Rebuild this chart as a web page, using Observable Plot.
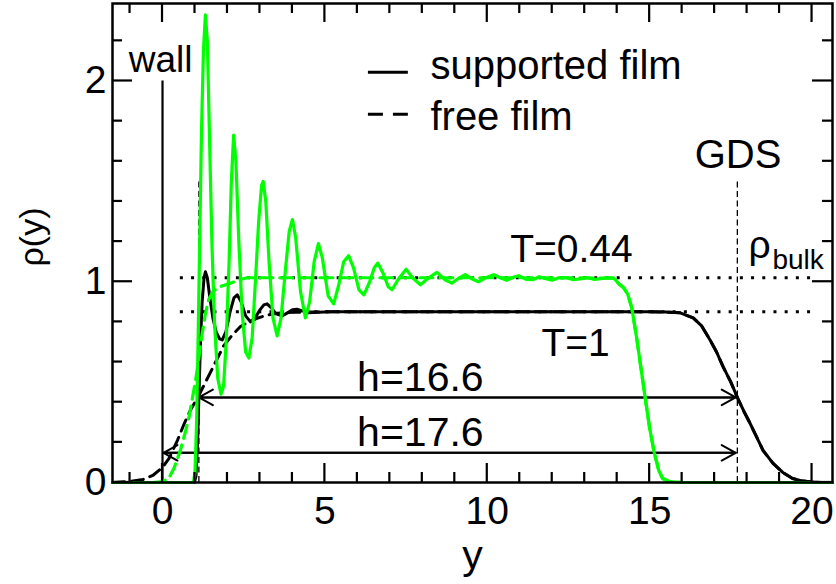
<!DOCTYPE html>
<html><head><meta charset="utf-8">
<script src="https://cdn.jsdelivr.net/npm/d3@7"></script>
<script src="https://cdn.jsdelivr.net/npm/@observablehq/plot@0.6"></script>
<style>body{margin:0;background:#fff}</style>
</head><body><div id="chart"></div>
<script>
// ---- data ----
const greenSupportedX = [-1.54, 0.95, 1.0, 1.05, 1.1, 1.15, 1.2, 1.26, 1.32, 1.38, 1.45, 1.52, 1.6, 1.7, 1.8, 1.88, 1.96, 2.05, 2.12, 2.19, 2.26, 2.35, 2.45, 2.56, 2.66, 2.76, 2.86, 2.96, 3.05, 3.1, 3.18, 3.28, 3.4, 3.53, 3.65, 3.78, 3.9, 4.0, 4.1, 4.25, 4.4, 4.53, 4.67, 4.8, 4.92, 5.1, 5.27, 5.42, 5.58, 5.73, 5.88, 6.05, 6.2, 6.38, 6.52, 6.63, 6.8, 6.95, 7.07, 7.25, 7.5, 7.7, 7.94, 8.2, 8.45, 8.7, 8.91, 9.1, 9.32, 9.52, 9.73, 9.95, 10.2, 10.4, 10.6, 10.8, 10.97, 11.2, 11.4, 11.6, 11.8, 12.0, 12.2, 12.45, 12.65, 12.9, 13.1, 13.3, 13.5, 13.7, 13.9, 14.05, 14.2, 14.32, 14.45, 14.6, 14.75, 14.86, 15.0, 15.14, 15.28, 15.4, 15.6, 16.0, 20.63];
const greenSupportedY = [0, 0, 0.05, 0.3, 0.75, 1.25, 1.75, 2.15, 2.33, 2.2, 1.7, 1.2, 0.8, 0.52, 0.44, 0.48, 0.7, 1.1, 1.5, 1.73, 1.6, 1.2, 0.85, 0.65, 0.62, 0.72, 1.0, 1.3, 1.48, 1.5, 1.4, 1.1, 0.82, 0.73, 0.82, 1.05, 1.25, 1.31, 1.22, 0.95, 0.82, 0.9, 1.1, 1.19, 1.12, 0.93, 0.89, 0.98, 1.1, 1.13, 1.07, 0.96, 0.935, 1.0, 1.07, 1.093, 1.04, 0.975, 0.96, 1.01, 1.062, 1.02, 0.985, 1.02, 1.047, 1.01, 0.993, 1.015, 1.035, 1.015, 1.0, 1.02, 1.035, 1.02, 1.007, 1.022, 1.03, 1.012, 1.01, 1.025, 1.015, 1.008, 1.02, 1.02, 1.01, 1.015, 1.02, 1.012, 1.015, 1.02, 1.018, 0.99, 0.97, 0.94, 0.87, 0.72, 0.55, 0.425, 0.27, 0.15, 0.06, 0.02, 0.005, 0, 0];

const greenFreeX = [-1.54, -0.3, 0.0, 0.19, 0.35, 0.55, 0.7, 0.81, 0.92, 1.02, 1.12, 1.22, 1.32, 1.42, 1.55, 1.7, 1.85, 2.05, 2.3, 2.6, 3.0, 4.0, 6.0, 8.0, 10.0, 12.0, 13.9, 14.05, 14.2, 14.32, 14.45, 14.6, 14.75, 14.86, 15.0, 15.14, 15.28, 15.4, 15.6, 16.0, 20.63];
const greenFreeY = [0, 0, 0.005, 0.02, 0.07, 0.16, 0.25, 0.32, 0.42, 0.51, 0.62, 0.74, 0.84, 0.91, 0.95, 0.97, 0.98, 0.99, 1.005, 1.02, 1.02, 1.02, 1.02, 1.02, 1.02, 1.02, 1.018, 0.99, 0.97, 0.94, 0.87, 0.72, 0.55, 0.425, 0.27, 0.15, 0.06, 0.02, 0.005, 0, 0];

const blackSupportedX = [-1.54, 0.98, 1.03, 1.08, 1.12, 1.17, 1.22, 1.28, 1.32, 1.38, 1.45, 1.55, 1.65, 1.76, 1.84, 1.95, 2.08, 2.2, 2.3, 2.42, 2.56, 2.71, 2.85, 3.0, 3.12, 3.22, 3.35, 3.5, 3.68, 3.85, 4.0, 4.14, 4.3, 4.5, 4.8, 5.2, 8, 12, 15.0, 15.5, 15.94, 16.34, 16.6, 16.86, 17.06, 17.26, 17.5, 17.71, 17.9, 18.09, 18.3, 18.49, 18.8, 19.1, 19.4, 19.72, 20.0, 20.3, 20.63];
const blackSupportedY = [0, 0, 0.03, 0.2, 0.43, 0.7, 0.9, 1.02, 1.05, 1.02, 0.93, 0.82, 0.75, 0.715, 0.71, 0.75, 0.85, 0.92, 0.935, 0.9, 0.83, 0.8, 0.82, 0.86, 0.885, 0.89, 0.87, 0.84, 0.83, 0.845, 0.86, 0.863, 0.855, 0.845, 0.848, 0.85, 0.85, 0.85, 0.85, 0.849, 0.845, 0.82, 0.78, 0.71, 0.65, 0.577, 0.5, 0.42, 0.355, 0.295, 0.225, 0.16, 0.095, 0.05, 0.02, 0.007, 0.002, 0, 0];

const blackFreeX = [-1.54, -1.0, -0.6, -0.3, 0.0, 0.2, 0.46, 0.66, 0.86, 1.0, 1.17, 1.48, 1.88, 2.15, 2.4, 2.65, 2.91, 3.2, 3.53, 4.0, 5.0, 8, 12, 15.0, 15.5, 15.94, 16.34, 16.6, 16.86, 17.06, 17.26, 17.5, 17.71, 17.9, 18.09, 18.3, 18.49, 18.8, 19.1, 19.4, 19.72, 20.0, 20.3, 20.63];
const blackFreeY = [0, 0.005, 0.015, 0.035, 0.075, 0.12, 0.21, 0.29, 0.36, 0.4, 0.45, 0.55, 0.68, 0.735, 0.777, 0.8, 0.818, 0.833, 0.843, 0.848, 0.85, 0.85, 0.85, 0.85, 0.849, 0.845, 0.82, 0.78, 0.71, 0.65, 0.577, 0.5, 0.42, 0.355, 0.295, 0.225, 0.16, 0.095, 0.05, 0.02, 0.007, 0.002, 0, 0];

const bulkDensities = [1.02, 0.85];          // dotted rho_bulk levels
const wallPosition = [0];
const interfacePositions = [1.12, 17.7];     // dashed verticals (left interface, GDS)
const filmThickness = [                      // arrows
  {from: 1.12, to: 17.65, level: 0.424, label: "h=16.6"},
  {from: 0.03, to: 17.65, level: 0.148, label: "h=17.6"}
];
const xMajor = [0, 5, 10, 15, 20];
const xMinor = [-1, 1, 2, 3, 4, 6, 7, 8, 9, 11, 12, 13, 14, 16, 17, 18, 19];
const yMajor = [0, 1, 2];
const yMinor = [0.2, 0.4, 0.6, 0.8, 1.2, 1.4, 1.6, 1.8, 2.2];
const legendItems = [
  {text: "supported film", dash: null},
  {text: "free film", dash: "15,10"}
];
const centeredLabels = [
  {text: "wall", x: -0.06, y: 2.045, size: 37},
  {text: "GDS", x: 17.72, y: 1.565, size: 40},
  {text: "T=0.44", x: 12.59, y: 1.096, size: 39},
  {text: "T=1", x: 12.72, y: 0.632, size: 39}
];
const startLabels = [
  {text: "ρ", x: 18.04, y: 1.12, size: 39},
  {text: "bulk", x: 18.78, y: 1.065, size: 28}
];

// ---- chart ----
const FONT = "'Liberation Sans', Arial, Helvetica, sans-serif";
const pts = (xs, ys) => xs.map((x, i) => [x, ys[i]]);
const GREEN = "#00ff00";
const W = 836, H = 584, ML = 112, MR = 4, MT = 3, MB = 102;
const XD = [-1.54, 20.63], YD = [0, 2.386];
const FW = W - ML - MR, FH = H - MT - MB;   // frame size in px
const xPerPx = (XD[1] - XD[0]) / FW, yPerPx = (YD[1] - YD[0]) / FH;

const legendX = [6.34, 7.57, 8.25];
const legendY = [2.043, 1.834];
const legendBase = [2.008, 1.758];

// inward ticks drawn as thin filled rectangles (2.2 px wide)
const HALF = 1.1;
const xTicks = (vals, len, top) => Plot.rect(vals, {
  x1: d => d - HALF * xPerPx, x2: d => d + HALF * xPerPx,
  y1: top ? YD[1] - len * yPerPx : YD[0], y2: top ? YD[1] : YD[0] + len * yPerPx,
  fill: "#000", inset: 0});
const yTicks = (vals, len, right) => Plot.rect(vals, {
  y1: d => d - HALF * yPerPx, y2: d => d + HALF * yPerPx,
  x1: right ? XD[1] - len * xPerPx : XD[0], x2: right ? XD[1] : XD[0] + len * xPerPx,
  fill: "#000", inset: 0});

const chart = Plot.plot({
  width: W, height: H,
  marginLeft: ML, marginRight: MR, marginTop: MT, marginBottom: MB,
  x: {domain: XD},
  y: {domain: YD},
  style: {fontFamily: FONT, background: "#fff", color: "#000", overflow: "visible"},
  marks: [
    // dotted bulk lines
    Plot.ruleY(bulkDensities, {y: d => d, x1: 0.55, x2: 20.05, stroke: "#000", strokeWidth: 3, strokeDasharray: "3,8.2"}),
    // wall
    Plot.ruleX(wallPosition, {x: d => d, y1: 0, y2: 2.0, stroke: "#000", strokeWidth: 2.2}),
    // dashed verticals
    Plot.ruleX(interfacePositions, {x: d => d, y1: 0, y2: 1.5, stroke: "#000", strokeWidth: 1.3, strokeDasharray: "6,3.5"}),
    // arrows (double-headed)
    Plot.arrow(filmThickness, {x1: "from", x2: "to", y1: "level", y2: "level", stroke: "#000", strokeWidth: 2, headLength: 12, headAngle: 58}),
    Plot.arrow(filmThickness, {x1: "to", x2: "from", y1: "level", y2: "level", stroke: "#000", strokeWidth: 2, headLength: 12, headAngle: 58}),
    Plot.text(filmThickness, {x: 7.94, y: d => d.level + 0.034, text: "label", fontSize: 41, textAnchor: "middle", lineAnchor: "bottom", fill: "#000"}),
    // curves
    Plot.line(pts(blackFreeX, blackFreeY), {stroke: "#000", strokeWidth: 3, strokeDasharray: "12,7"}),
    Plot.line(pts(blackSupportedX, blackSupportedY), {stroke: "#000", strokeWidth: 3}),
    Plot.line(pts(greenFreeX, greenFreeY), {stroke: GREEN, strokeWidth: 3.2, strokeDasharray: "13,7"}),
    Plot.line(pts(greenSupportedX, greenSupportedY), {stroke: GREEN, strokeWidth: 3.2}),
    // annotations
    Plot.text(centeredLabels, {x: "x", y: "y", text: "text", textAnchor: "middle", fontSize: "size", lineAnchor: "bottom", fill: "#000"}),
    Plot.text(startLabels, {x: "x", y: "y", text: "text", textAnchor: "start", fontSize: "size", lineAnchor: "bottom", fill: "#000"}),
    // legend
    Plot.ruleY([legendY[0]], {y: d => d, x1: legendX[0], x2: legendX[1], stroke: "#000", strokeWidth: 3}),
    Plot.ruleY([legendY[1]], {y: d => d, x1: legendX[0], x2: legendX[1], stroke: "#000", strokeWidth: 3, strokeDasharray: legendItems[1].dash}),
    Plot.text(legendItems, {x: legendX[2], y: (d, i) => legendBase[i], text: "text", textAnchor: "start", lineAnchor: "bottom", fontSize: 40, fill: "#000"}),
    // tick labels
    Plot.axisX({anchor: "bottom", ticks: xMajor, tickSize: 0, tickPadding: 14, fontSize: 39, tickFormat: d3.format("d"), label: null, fill: "#000"}),
    Plot.axisY({anchor: "left", ticks: yMajor, tickSize: 0, tickPadding: 6, fontSize: 39, tickFormat: d3.format("d"), label: null, fill: "#000"}),
    // axis titles
    Plot.text(["y"], {frameAnchor: "bottom", dy: 86, text: d => d, fontSize: 41, textAnchor: "middle", lineAnchor: "bottom", fill: "#000"}),
    Plot.text(["ρ(y)"], {frameAnchor: "left", dx: -70, dy: -6, rotate: -90, text: d => d, fontSize: 34, textAnchor: "middle", lineAnchor: "bottom", fill: "#000"}),
    Plot.frame({stroke: "#000", strokeWidth: 2.5}),
    // inward ticks on all four sides
    xTicks(xMajor, 19, false), xTicks(xMinor, 10, false),
    xTicks(xMajor, 19, true), xTicks(xMinor, 10, true),
    yTicks(yMajor, 20, false), yTicks(yMinor, 10, false),
    yTicks(yMajor, 20, true), yTicks(yMinor, 10, true)
  ]
});
document.getElementById("chart").appendChild(chart);
</script>
</body></html>
